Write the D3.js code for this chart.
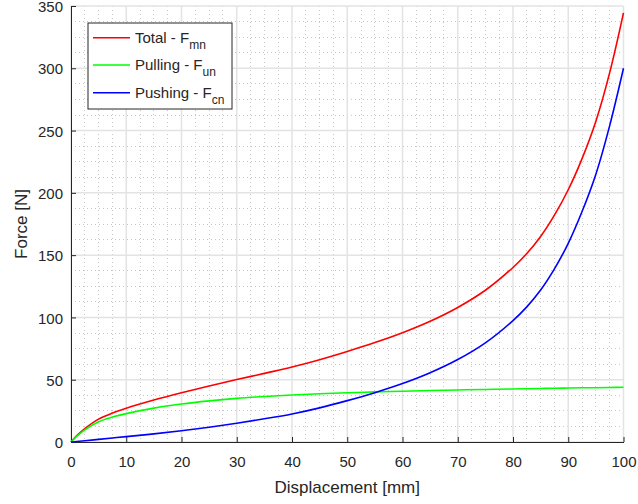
<!DOCTYPE html>
<html><head><meta charset="utf-8">
<script src="https://cdn.jsdelivr.net/npm/d3@7"></script>
<style>
body{margin:0;background:#fff;}
text{font-family:"Liberation Sans",Arial,Helvetica,sans-serif;fill:#262626;}
</style></head>
<body><svg id="c" width="638" height="504"></svg>
<script>
const displacement = [0,1,2.5,5,7.5,10,15,20,25,30,35,40,45,50,55,60,65,70,75,80,82.5,85,87.5,90,92.5,95,97.5,100];
const totalForce   = [0,4.9,10.8,18.4,23.2,27.1,33.7,39.5,44.9,50.1,55.1,60.2,66.1,72.7,79.8,87.7,96.9,108,121.8,140.1,151.3,165,182.1,202.5,227.5,257.5,296.5,344.5];
const pullingForce = [0,4.5,9.8,16.3,20,22.8,27.2,30.5,33,35,36.5,37.7,38.7,39.5,40.2,40.8,41.3,41.8,42.2,42.6,42.8,43,43.1,43.3,43.5,43.6,43.8,44];
const pushingForce = [0,0.4,1,2.1,3.2,4.3,6.5,9,11.9,15.1,18.6,22.5,27.4,33.2,39.6,46.9,55.6,66.2,79.6,97.5,108.5,122,139,159.5,185,215,254,300];
const xTicks = [0,10,20,30,40,50,60,70,80,90,100];
const yTicks = [0,50,100,150,200,250,300,350];
const seriesNames = ["Total - F","Pulling - F","Pushing - F"];
const seriesSubs = ["mn","un","cn"];
const seriesColors = ["#ff0000","#00ff00","#0000ff"];
const seriesData = [totalForce,pullingForce,pushingForce];

const svg = d3.select("#c");
const L=71,R=623.5,T=6,B=442;
const x = d3.scaleLinear().domain([0,100]).range([L,R]);
const y = d3.scaleLinear().domain([0,350]).range([B,T]);

// minor grid
const xMinor = d3.range(0,100.01,2.5).filter(v=>v%10!==0);
const yMinor = d3.range(0,350.01,12.5).filter(v=>v%50!==0);
const g = svg.append("g");
g.selectAll(".xm").data(xMinor).enter().append("line")
 .attr("x1",d=>x(d)).attr("x2",d=>x(d)).attr("y1",T).attr("y2",B)
 .attr("stroke","#c8c8c8").attr("stroke-width",1).attr("stroke-dasharray","1,3").attr("shape-rendering","crispEdges");
g.selectAll(".ym").data(yMinor).enter().append("line")
 .attr("x1",L).attr("x2",R).attr("y1",d=>y(d)).attr("y2",d=>y(d))
 .attr("stroke","#c8c8c8").attr("stroke-width",1).attr("stroke-dasharray","1,3").attr("shape-rendering","crispEdges");
// major grid
g.selectAll(".xg").data(xTicks).enter().append("line")
 .attr("x1",d=>x(d)).attr("x2",d=>x(d)).attr("y1",T).attr("y2",B)
 .attr("stroke","#e3e3e3").attr("stroke-width",1.5);
g.selectAll(".yg").data(yTicks).enter().append("line")
 .attr("x1",L).attr("x2",R).attr("y1",d=>y(d)).attr("y2",d=>y(d))
 .attr("stroke","#e3e3e3").attr("stroke-width",1.5);

// axes
const xAxis = d3.axisBottom(x).tickValues(xTicks).tickSizeInner(-5).tickSizeOuter(0).tickPadding(14);
const yAxis = d3.axisLeft(y).tickValues(yTicks).tickSizeInner(-5).tickSizeOuter(0).tickPadding(8);
const gx = svg.append("g").attr("transform",`translate(0,${B})`).call(xAxis);
const gy = svg.append("g").attr("transform",`translate(${L},0)`).call(yAxis);
[gx,gy].forEach(a=>{
  a.select(".domain").attr("stroke","#262626").attr("stroke-width",1);
  a.selectAll(".tick line").attr("stroke","#262626");
  a.selectAll(".tick text").attr("font-size","15px").attr("fill","#262626")
   .attr("font-family","'Liberation Sans',Arial,sans-serif");
});
gx.selectAll(".tick text").attr("dy","0.71em");
gy.selectAll(".tick text").attr("dy","0.38em");

// lines
const line = d3.line().x((d,i)=>x(displacement[i])).y(d=>y(d)).curve(d3.curveCatmullRom.alpha(0.5));
seriesData.forEach((s,k)=>{
  svg.append("path").datum(s).attr("d",line).attr("fill","none")
   .attr("stroke",seriesColors[k]).attr("stroke-width",1.6);
});

// axis labels
svg.append("text").attr("x",(L+R)/2).attr("y",493).attr("text-anchor","middle")
 .attr("font-size","17px").text("Displacement [mm]");
svg.append("text").attr("transform",`translate(27,${(T+B)/2}) rotate(-90)`).attr("text-anchor","middle")
 .attr("font-size","17px").text("Force [N]");

// legend
const lg = svg.append("g");
lg.append("rect").attr("x",88).attr("y",23).attr("width",144).attr("height",86)
 .attr("fill","#fff").attr("stroke","#262626").attr("stroke-width",1);
const ly = [37.7,65,92.7];
seriesNames.forEach((n,k)=>{
  lg.append("line").attr("x1",93).attr("x2",130).attr("y1",ly[k]).attr("y2",ly[k])
   .attr("stroke",seriesColors[k]).attr("stroke-width",1.6);
  const t = lg.append("text").attr("x",135).attr("y",ly[k]+5).attr("font-size","15px");
  t.append("tspan").text(n);
  t.append("tspan").attr("dy",6).attr("font-size","12px").text(seriesSubs[k]);
});
</script></body></html>
